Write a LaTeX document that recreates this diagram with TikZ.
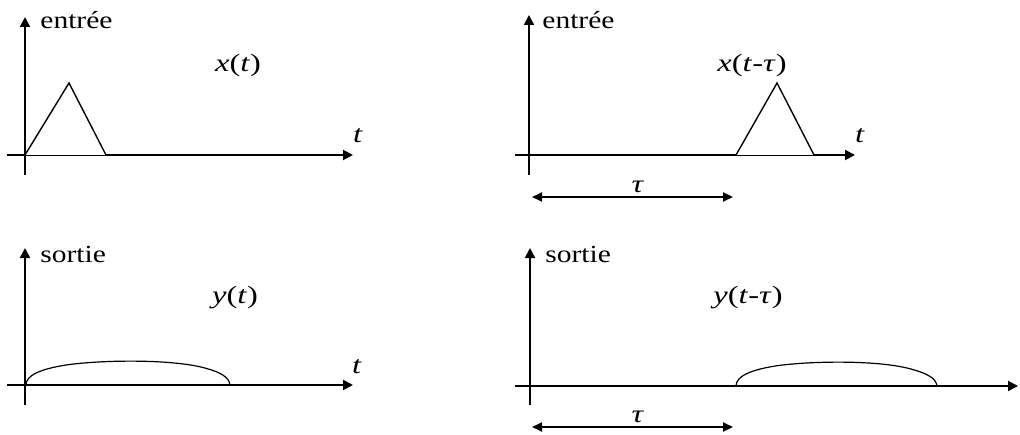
\documentclass[tikz,border=0pt]{standalone}
\usepackage{fontspec}
\setmainfont{Liberation Serif}
\newfontfamily\wideserif[FakeStretch=1.2]{Liberation Serif}
\newfontfamily\widerserif[FakeStretch=1.3]{Liberation Serif}
\usetikzlibrary{arrows.meta}

\begin{document}
\begin{tikzpicture}[x=.5pt,y=.5pt,
    axisline/.style={line width=1pt,-{Triangle[length=5pt,width=5pt]}},
    signal/.style={line width=.7pt},
    delayarrow/.style={line width=1pt,{Triangle[length=5pt,width=4.5pt]}-{Triangle[length=5pt,width=4.5pt]}},
    axislabel/.style={font=\wideserif\fontsize{12.3}{14}\selectfont,anchor=base west,inner sep=0pt},
    funclabel/.style={font=\widerserif\fontsize{12.5}{14}\selectfont,anchor=base,inner sep=0pt}]
    \useasboundingbox (0,0) rectangle (1020,434);
    % entree, no delay
    \begin{scope}[shift={(25,279)}]
      \draw[axisline] (0,-20) -- (0,138);
      \draw[line width=1pt] (-18,0) -- (0,0);
      \draw[axisline] (81,0) -- (328,0);
      \draw[signal] (0,0) -- (44,72) -- (81,0);
      \draw[line width=.4pt] (0,0) -- (81,0);
      \node[axislabel] (inA) at (15,126) {entrée};
      \node[funclabel] (xA) at (213,83) {\textit{x}(\textit{t})};
      \node[funclabel] (tA) at (333,12) {\textit{t}};
    \end{scope}
    % entree, delayed
    \begin{scope}[shift={(529,279)}]
      \draw[axisline] (0,-20) -- (0,140);
      \draw[line width=1pt] (-14,0) -- (207,0);
      \draw[axisline] (285,0) -- (326,0);
      \draw[signal] (207,0) -- (248,72) -- (285,0);
      \draw[line width=.4pt] (207,0) -- (285,0);
      \node[axislabel] (inB) at (13,126) {entrée};
      \node[funclabel] (xB) at (223,83) {\textit{x}(\textit{t}-\textit{τ})};
      \node[funclabel] (tB) at (331,12) {\textit{t}};
      \coordinate (dA0) at (3,-42);
      \coordinate (dA1) at (204,-42);
      \draw[delayarrow] (dA0) -- (dA1);
      \node[funclabel] (tauA) at (109,-37) {\textit{τ}};
    \end{scope}
    % sortie, no delay
    \begin{scope}[shift={(25,49)}]
      \draw[axisline] (0,-20) -- (0,137);
      \draw[axisline] (-18,0) -- (328,0);
      \draw[signal,line width=.6pt] (1,0) .. controls (1,10) and (16,16) .. (41,20)
        .. controls (76,25) and (141,26) .. (176,18) .. controls (196,13) and (204,8) .. (205,0);
      \node[axislabel] (outA) at (15,123) {sortie};
      \node[funclabel] (yA) at (210,82) {\textit{y}(\textit{t})};
      \node[funclabel] (tC) at (332,12) {\textit{t}};
    \end{scope}
    % sortie, delayed
    \begin{scope}[shift={(530,48)}]
      \draw[axisline] (0,-19) -- (0,138);
      \draw[axisline] (-15,0) -- (488,0);
      \draw[signal,line width=.6pt] (206,0) .. controls (206,10) and (221,16) .. (245,20)
        .. controls (279,25) and (343,26) .. (377,18) .. controls (397,13) and (406,8) .. (407,0);
      \node[axislabel] (outB) at (15,124) {sortie};
      \node[funclabel] (yB) at (218,83) {\textit{y}(\textit{t}-\textit{τ})};
      \coordinate (dB0) at (2,-41);
      \coordinate (dB1) at (203,-41);
      \draw[delayarrow] (dB0) -- (dB1);
      \node[funclabel] (tauB) at (108,-36) {\textit{τ}};
    \end{scope}
  \end{tikzpicture}
\end{document}
